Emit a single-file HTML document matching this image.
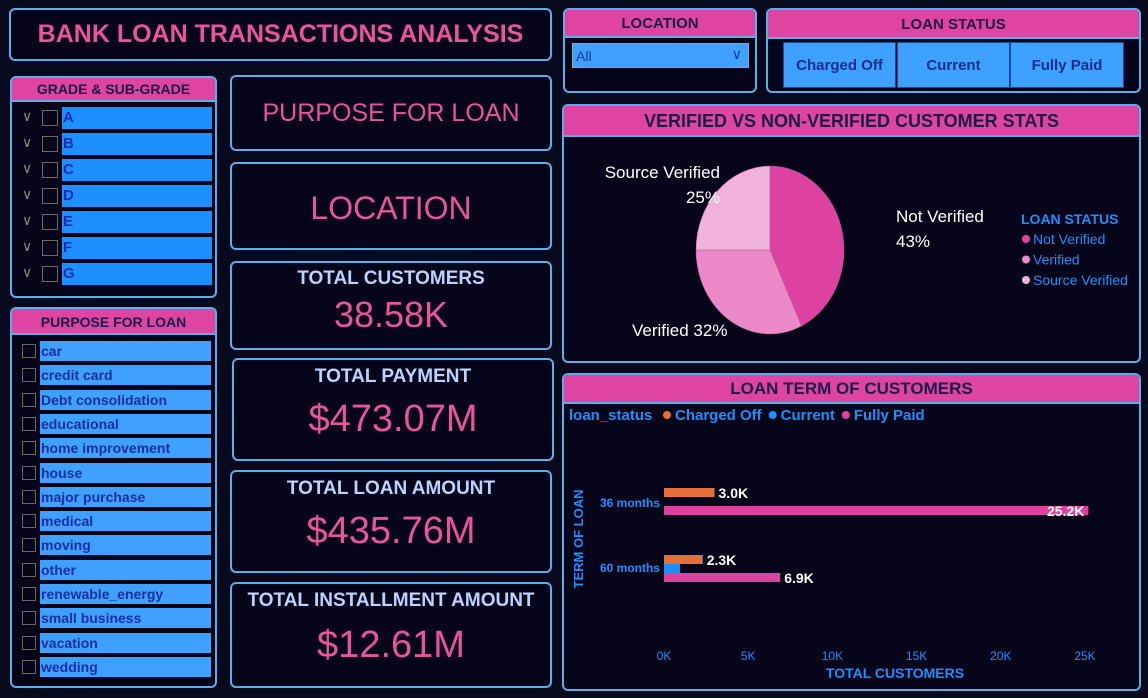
<!DOCTYPE html>
<html><head><meta charset="utf-8"><style>
*{box-sizing:border-box;margin:0;padding:0}
body{width:1148px;height:698px;background:#070a1c;font-family:"Liberation Sans",sans-serif;position:relative;overflow:hidden}
.p{position:absolute;border:2px solid #5aaeea;border-radius:6px;background:#06051a}
.hd{position:absolute;left:0;right:0;top:0;background:#df44a3;color:#1a1a4a;font-weight:bold;text-align:center;border-bottom:2px solid #5aaeea;border-radius:4px 4px 0 0}
.kpi{text-align:center;color:#e8559a}
.kt{color:#b8d4ff;font-weight:bold;font-size:19px;margin-top:6px}
.kv{font-size:36px;margin-top:6px}
.gi{position:absolute;left:50px;width:150px;height:22px;background:#1e8fff;color:#1a2fb0;font-weight:bold;font-size:15px;line-height:22px;padding-left:1px}
.chk{position:absolute;width:16px;height:16px;border:1px solid #6a6a5a}
.pi{position:absolute;left:28px;width:171px;height:20px;background:#3fa0ff;color:#1a2fa0;font-weight:bold;font-size:14px;line-height:20px;padding-left:1px}
.btn{position:absolute;top:32px;height:46px;background:#3ea0ff;color:#1a2f8a;font-weight:bold;font-size:15px;line-height:46px;text-align:center;border:1px solid #1a4a9a}
</style></head><body>
<div class="p" style="left:9px;top:8px;width:543px;height:53px;text-align:center;color:#e8559a;font-weight:bold;font-size:25px;line-height:49px">BANK LOAN TRANSACTIONS ANALYSIS</div>

<div class="p" style="left:10px;top:76px;width:207px;height:222px">
<div class="hd" style="height:24px;font-size:14px;line-height:23px">GRADE &amp; SUB-GRADE</div>
<div id="grades"></div>
</div>

<div class="p" style="left:10px;top:307px;width:207px;height:381px">
<div class="hd" style="height:26px;font-size:14px;line-height:26px">PURPOSE FOR LOAN</div>
<div id="purposes"></div>
</div>

<div class="p kpi" style="left:230px;top:75px;width:322px;height:76px;font-size:25px;line-height:72px">PURPOSE FOR LOAN</div>
<div class="p kpi" style="left:230px;top:162px;width:322px;height:88px;font-size:32px;line-height:88px">LOCATION</div>
<div class="p kpi" style="left:230px;top:261px;width:322px;height:89px"><div class="kt" style="margin-top:5px">TOTAL CUSTOMERS</div><div class="kv" style="margin-top:4px">38.58K</div></div>
<div class="p kpi" style="left:232px;top:358px;width:322px;height:103px"><div class="kt">TOTAL PAYMENT</div><div class="kv" style="font-size:38px;margin-top:10px">$473.07M</div></div>
<div class="p kpi" style="left:230px;top:470px;width:322px;height:103px"><div class="kt">TOTAL LOAN AMOUNT</div><div class="kv" style="font-size:38px;margin-top:10px">$435.76M</div></div>
<div class="p kpi" style="left:230px;top:582px;width:322px;height:106px"><div class="kt">TOTAL INSTALLMENT AMOUNT</div><div class="kv" style="font-size:38px;margin-top:12px">$12.61M</div></div>

<div class="p" style="left:563px;top:8px;width:194px;height:85px">
<div class="hd" style="height:28px;font-size:15px;line-height:27px">LOCATION</div>
<div style="position:absolute;left:7px;top:33px;width:177px;height:25px;background:#3fa0ff;border:1px solid #8aa;color:#1a3a9a;font-size:14px;line-height:24px;padding-left:3px">All<span style="position:absolute;right:6px;top:-2px;color:#1a3a9a">&#8744;</span></div>
</div>

<div class="p" style="left:766px;top:8px;width:375px;height:85px">
<div class="hd" style="height:29px;font-size:15px;line-height:29px">LOAN STATUS</div>
<div class="btn" style="left:15px;width:113px">Charged Off</div>
<div class="btn" style="left:129px;width:113px">Current</div>
<div class="btn" style="left:242px;width:114px">Fully Paid</div>
</div>

<div class="p" style="left:562px;top:104px;width:579px;height:259px">
<div class="hd" style="height:31px;font-size:18px;line-height:30px">VERIFIED VS NON-VERIFIED CUSTOMER STATS</div>
<svg id="pie" width="579" height="259" style="position:absolute;left:-2px;top:-2px"></svg>
</div>

<div class="p" style="left:562px;top:373px;width:579px;height:318px">
<div class="hd" style="height:29px;font-size:17px;line-height:28px">LOAN TERM OF CUSTOMERS</div>
<svg id="bar" width="579" height="318" style="position:absolute;left:-2px;top:-2px"></svg>
</div>

<script>
const NS="http://www.w3.org/2000/svg";
function mk(p,t,a,txt){const e=document.createElementNS(NS,t);for(const k in a)e.setAttribute(k,a[k]);if(txt!==undefined)e.textContent=txt;p.appendChild(e);return e;}

const grades=["A","B","C","D","E","F","G"];
const gEl=document.getElementById('grades');
grades.forEach((g,i)=>{
 const y=29+i*26;
 const c=document.createElement('div');c.style.cssText=`position:absolute;left:10px;top:${y+1}px;color:#8a8a7a;font-size:14px`;c.textContent='\u2228';
 
 
 gEl.appendChild(c);
 const b=document.createElement('div');b.className='chk';b.style.left='30px';b.style.top=(y+3)+'px';
 
 
 gEl.appendChild(b);
 const d=document.createElement('div');d.className='gi';d.style.top=y+'px';d.textContent=g;
 
 
 gEl.appendChild(d);
});
const purposes=["car","credit card","Debt consolidation","educational","home improvement","house","major purchase","medical","moving","other","renewable_energy","small business","vacation","wedding"];
const pEl=document.getElementById('purposes');
purposes.forEach((g,i)=>{
 const y=32+i*24.3;
 const b=document.createElement('div');b.className='chk';b.style.cssText+=`left:10px;top:${y+3}px;width:14px;height:14px`;
 
 
 pEl.appendChild(b);
 const d=document.createElement('div');d.className='pi';d.style.top=y+'px';d.textContent=g;
 
 
 pEl.appendChild(d);
});

const pieLabels=["Not Verified","Verified","Source Verified"];
const pieValues=[43,32,25];
const pieColors=["#dd42a0","#ea88c8","#f0b2da"];
const pie=document.getElementById('pie');
const cx=208,cy=146,rx=74,ry=84;
let tot=pieValues.reduce((a,b)=>a+b,0),ang=-Math.PI/2;
pieValues.forEach((v,i)=>{
 const a2=ang+v/tot*2*Math.PI;
 const x1=cx+rx*Math.cos(ang),y1=cy+ry*Math.sin(ang),x2=cx+rx*Math.cos(a2),y2=cy+ry*Math.sin(a2);
 const s=mk(pie,'path',{d:`M${cx},${cy}L${x1},${y1}A${rx},${ry} 0 ${a2-ang>Math.PI?1:0} 1 ${x2},${y2}Z`,fill:pieColors[i],stroke:'#b05a90','stroke-width':0.5});
 
 
 ang=a2;
});
const lt={fill:'#fff','font-size':17,'font-family':'Liberation Sans'};
let t;
t=mk(pie,'text',Object.assign({x:334,y:118},lt),pieLabels[0]);
t=mk(pie,'text',Object.assign({x:334,y:143},lt),pieValues[0]+'%');
t=mk(pie,'text',Object.assign({x:158,y:74,'text-anchor':'end'},lt),pieLabels[2]);
t=mk(pie,'text',Object.assign({x:158,y:99,'text-anchor':'end'},lt),pieValues[2]+'%');
t=mk(pie,'text',Object.assign({x:70,y:232},lt),pieLabels[1]+' '+pieValues[1]+'%');
t=mk(pie,'text',{x:459,y:120,fill:'#1e8fff','font-size':14,'font-weight':'bold'},'LOAN STATUS');
pieLabels.forEach((l,i)=>{
 const y=140+i*20.5;
 mk(pie,'circle',{cx:464,cy:y-5,r:4,fill:pieColors[i]});
 const e=mk(pie,'text',{x:471,y:y,fill:'#1e8fff','font-size':14},l);
 
 
});

const terms=["36 months","60 months"];
const seriesNames=["Charged Off","Current","Fully Paid"];
const chargedOff=[3.0,2.3];
const current=[0,0.95];
const fullyPaid=[25.2,6.9];
const ticks=[0,5,10,15,20,25];
const barColors=["#e4703a","#1e8fff","#dd42a0"];
const bar=document.getElementById('bar');
const x0=102,pxK=(1085-664)/25;
const xs=v=>x0+v*pxK;
const groupY=[115,182];
t=mk(bar,'text',{x:7,y:47,'font-size':15,'font-weight':'bold',fill:'#1e8fff'},'loan_status');
let lx=100;
seriesNames.forEach((n,i)=>{
 mk(bar,'circle',{cx:lx+5,cy:42,r:4,fill:barColors[i]});
 const e=mk(bar,'text',{x:lx+13,y:47,'font-size':15,'font-weight':'bold',fill:'#1e8fff'},n);
 
 
 lx+=13+e.getComputedTextLength()+6;
});
const series=[chargedOff,current,fullyPaid];
terms.forEach((tm,gi)=>{
 const e=mk(bar,'text',{x:98,y:groupY[gi]+19+(gi?-2:0),'text-anchor':'end','font-size':12,'font-weight':'bold',fill:'#1e8fff'},tm);
 
 
 series.forEach((s,si)=>{
  const v=s[gi];if(!v)return;
  const y=groupY[gi]+si*9;
  const r=mk(bar,'rect',{x:x0,y:y,width:xs(v)-x0,height:9,fill:barColors[si]});
  
  
  if(si===1)return;
  const inside=xs(v)>500;
  const l=mk(bar,'text',{x:inside?xs(v)-4:xs(v)+4,y:y+10,'text-anchor':inside?'end':'start','font-size':14,'font-weight':'bold',fill:'#fff'},v.toFixed(1)+'K');
  
  
 });
});
ticks.forEach(v=>{
 const e=mk(bar,'text',{x:xs(v),y:287,'text-anchor':'middle','font-size':12,fill:'#1e8fff'},v+'K');
 
 
});
t=mk(bar,'text',{x:333,y:305,'text-anchor':'middle','font-size':14,'font-weight':'bold',fill:'#1e8fff'},'TOTAL CUSTOMERS');
t=mk(bar,'text',{x:0,y:0,transform:'translate(21,166) rotate(-90)','text-anchor':'middle','font-size':13,'font-weight':'bold',fill:'#1e8fff'},'TERM OF LOAN');
</script>
</body></html>
